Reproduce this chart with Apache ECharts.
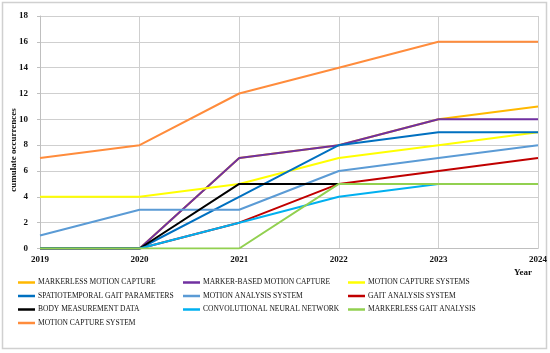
<!DOCTYPE html>
<html>
<head>
<meta charset="utf-8">
<script src="https://cdn.jsdelivr.net/npm/echarts@6/dist/echarts.min.js"></script>
<style>html,body{margin:0;padding:0;background:#fff;}#c{width:550px;height:353px;}</style>
</head>
<body>
<div id="c"></div>
<script>
const years = ['2019','2020','2021','2022','2023','2024'];
const yTicks = [0,2,4,6,8,10,12,14,16,18];
const seriesNames = [
  'MARKERLESS MOTION CAPTURE','MARKER-BASED MOTION CAPTURE','MOTION CAPTURE SYSTEMS',
  'SPATIOTEMPORAL GAIT PARAMETERS','MOTION ANALYSIS SYSTEM','GAIT ANALYSIS SYSTEM',
  'BODY MEASUREMENT DATA','CONVOLUTIONAL NEURAL NETWORK','MARKERLESS GAIT ANALYSIS',
  'MOTION CAPTURE SYSTEM'
];
const markerlessMotionCapture = [0,0,7,8,10,11];
const markerBasedMotionCapture = [0,0,7,8,10,10];
const motionCaptureSystems = [4,4,5,7,8,9];
const spatiotemporalGaitParameters = [0,0,4,8,9,9];
const motionAnalysisSystem = [1,3,3,6,7,8];
const gaitAnalysisSystem = [0,0,2,5,6,7];
const bodyMeasurementData = [0,0,5,5,5,5];
const convolutionalNeuralNetwork = [0,0,2,4,5,5];
const markerlessGaitAnalysis = [0,0,0,5,5,5];
const motionCaptureSystem = [7,8,12,14,16,16];
const allValues = [markerlessMotionCapture, markerBasedMotionCapture, motionCaptureSystems,
  spatiotemporalGaitParameters, motionAnalysisSystem, gaitAnalysisSystem,
  bodyMeasurementData, convolutionalNeuralNetwork, markerlessGaitAnalysis, motionCaptureSystem];
const colors = ['#FFB800','#7030A0','#FFFF00','#0070C0','#5B9BD5','#C00000','#000000','#00B0F0','#92D050','#FF8C3C'];

const font = '"Liberation Serif","Times New Roman",serif';
const series = seriesNames.map((n,i)=>({
  name:n, type:'line', data:allValues[i], showSymbol:false, symbol:'none',
  lineStyle:{color:colors[i], width:2}, itemStyle:{color:colors[i]}, z: 2+i, animation:false
}));
function legendCol(names, left){
  return {
    data:names, orient:'vertical', left:left, top:277.5, icon:'rect',
    itemWidth:17, itemHeight:2.5, itemGap:3.5,
    textStyle:{fontFamily:font, fontSize:7.5, color:'#111', lineHeight:10, padding:[0,0,0,-2]},
    padding:0, selectedMode:false
  };
}
const chart = echarts.init(document.getElementById('c'), null, {renderer:'canvas'});
chart.setOption({
  animation:false,
  backgroundColor:'#fff',
  graphic:[
    {type:'rect', shape:{x:2.5,y:2.5,width:544,height:346}, style:{fill:'none', stroke:'#D0D0D0', lineWidth:1.5}, z:-1},
    {type:'text', x:14, y:150, rotation:Math.PI/2, style:{text:'cumulate occurrences', fontFamily:font, fontWeight:'bold', fontSize:9, fill:'#111', align:'center', verticalAlign:'middle'}}
  ],
  grid:{left:40, right:12, top:16, bottom:104.5},
  xAxis:{type:'category', data:years, boundaryGap:false,
    axisLine:{lineStyle:{color:'#BFBFBF'}}, axisTick:{show:false},
    axisLabel:{fontFamily:font, fontWeight:'bold', fontSize:9, color:'#111', margin:7},
    splitLine:{show:true, lineStyle:{color:'#CFCFCF', width:1}},
    name:'Year', nameLocation:'end', nameGap:0,
    nameTextStyle:{fontFamily:font, fontWeight:'bold', fontSize:9, color:'#111', align:'right', verticalAlign:'top', padding:[20,6,0,0]}
  },
  yAxis:{type:'value', min:yTicks[0], max:yTicks[yTicks.length-1], interval:2,
    axisLine:{show:true, lineStyle:{color:'#BFBFBF'}}, axisTick:{show:true, length:3, lineStyle:{color:'#BFBFBF'}},
    axisLabel:{fontFamily:font, fontWeight:'bold', fontSize:9, color:'#111', margin:12},
    splitLine:{show:true, lineStyle:{color:'#CFCFCF', width:1}}
  },
  legend:[
    legendCol([seriesNames[0],seriesNames[3],seriesNames[6],seriesNames[9]], 18),
    legendCol([seriesNames[1],seriesNames[4],seriesNames[7]], 183),
    legendCol([seriesNames[2],seriesNames[5],seriesNames[8]], 348)
  ],
  series:series
});
</script>
</body>
</html>
